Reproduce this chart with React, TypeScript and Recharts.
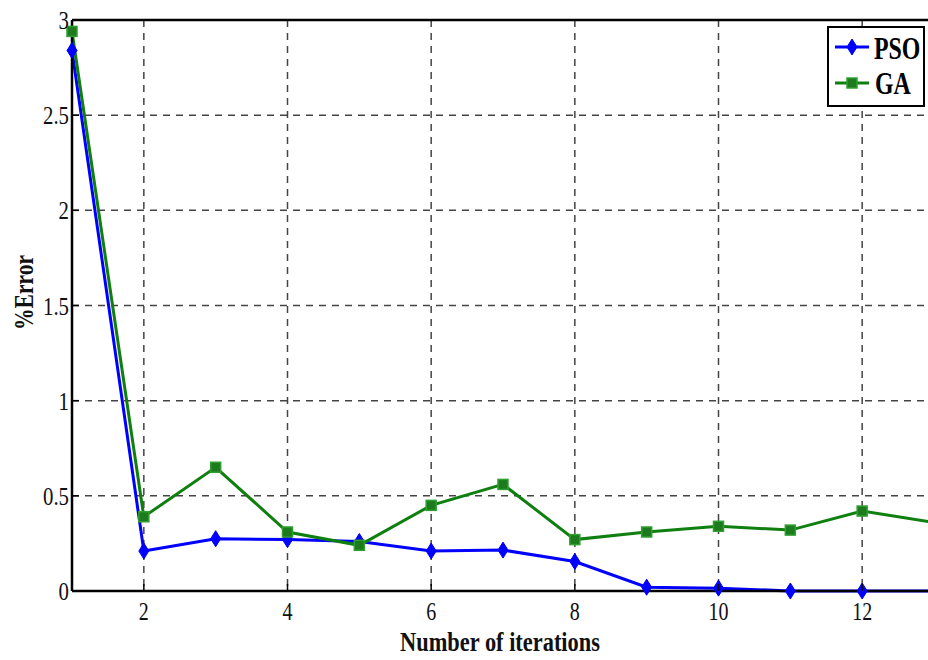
import { LineChart, Line, XAxis, YAxis, CartesianGrid, ReferenceLine, Label } from 'recharts';

const iterations = [1, 2, 3, 4, 5, 6, 7, 8, 9, 10, 11, 12, 13];
const psoError = [2.84, 0.21, 0.275, 0.27, 0.26, 0.21, 0.215, 0.155, 0.02, 0.015, 0, 0, 0];
const gaError = [2.94, 0.39, 0.65, 0.31, 0.24, 0.45, 0.56, 0.27, 0.31, 0.34, 0.32, 0.42, 0.36];
const xTicks = [2, 4, 6, 8, 10, 12];
const yTicks = [0, 0.5, 1, 1.5, 2, 2.5, 3];

const data = iterations.map((it, i) => ({ it, pso: psoError[i], ga: gaError[i] }));

const BLUE = '#0000ff';
const GREEN = '#0f7f0f';
const FONT = '"Liberation Serif", "Times New Roman", serif';
// the reference is squeezed horizontally, so all text is too
const SQUEEZE = 0.8;

const Diamond = (props: any) => {
    const { cx, cy } = props;
    if (cx == null || cy == null) return null;
    return <path d={`M${cx},${cy - 8} L${cx + 5},${cy} L${cx},${cy + 8} L${cx - 5},${cy} Z`} fill={BLUE} stroke={BLUE} />;
};

const Square = (props: any) => {
    const { cx, cy } = props;
    if (cx == null || cy == null) return null;
    return <rect x={cx - 5} y={cy - 5} width={10} height={10} fill="#1d7a1d" stroke="#2fa02f" strokeWidth={1.5} />;
};

const XTick = (props: any) => {
    const { x, payload } = props;
    const y0 = 591;
    return (
        <g>
            <line x1={x} y1={y0} x2={x} y2={y0 - 7} stroke="#000" strokeWidth={1.5} />
            <text transform={`translate(${x},${y0 + 29}) scale(${SQUEEZE},1)`} textAnchor="middle" fontFamily={FONT} fontSize={25} fill="#111">
                {payload.value}
            </text>
        </g>
    );
};

const YTick = (props: any) => {
    const { y, payload } = props;
    return (
        <g>
            <line x1={72} y1={y} x2={79} y2={y} stroke="#000" strokeWidth={1.5} />
            <text transform={`translate(69,${y + 9}) scale(${SQUEEZE},1)`} textAnchor="end" fontFamily={FONT} fontSize={26} fill="#111">
                {payload.value}
            </text>
        </g>
    );
};

const LegendBox = () => (
    <svg width={100} height={82} style={{ display: 'block' }}>
        <rect x={1} y={1} width={96} height={79} fill="#fff" stroke="#000" strokeWidth={2} />
        <line x1={8} y1={21} x2={42} y2={21} stroke={BLUE} strokeWidth={3} />
        <Diamond cx={25} cy={21} />
        <text transform={`translate(47,33) scale(0.77,1)`} fontFamily={FONT} fontWeight="bold" fontSize={31} fill="#000">PSO</text>
        <line x1={8} y1={57} x2={42} y2={57} stroke={GREEN} strokeWidth={3} />
        <Square cx={25} cy={57} />
        <text transform={`translate(48,68) scale(0.77,1)`} fontFamily={FONT} fontWeight="bold" fontSize={31} fill="#000">GA</text>
    </svg>
);

export default function App() {
    return (
        <div style={{ position: 'absolute', left: 0, top: 0, width: 928, height: 660, overflow: 'hidden', background: '#fff' }}>
            <LineChart width={936} height={660} data={data} margin={{ top: 20, right: 2, left: 0, bottom: 0 }}>
                <CartesianGrid stroke="#444" strokeDasharray="7 6" strokeWidth={1.5} />
                <XAxis
                    dataKey="it"
                    type="number"
                    domain={[1, 13]}
                    ticks={xTicks}
                    height={69}
                    axisLine={{ stroke: '#000', strokeWidth: 2.5 }}
                    tickLine={false}
                    tick={<XTick />}
                >
                    <Label
                        content={(p: any) => {
                            const vb = p.viewBox;
                            const cx = vb.x + vb.width / 2 - 3;
                            return (
                                <text transform={`translate(${cx},651) scale(${SQUEEZE},1)`} textAnchor="middle" fontFamily={FONT} fontWeight="bold" fontSize={28} fill="#111">
                                    Number of iterations
                                </text>
                            );
                        }}
                    />
                </XAxis>
                <YAxis
                    type="number"
                    domain={[0, 3]}
                    ticks={yTicks}
                    width={72}
                    axisLine={{ stroke: '#000', strokeWidth: 2.5 }}
                    tickLine={false}
                    tick={<YTick />}
                >
                    <Label
                        content={(p: any) => {
                            const vb = p.viewBox;
                            const cy = vb.y + vb.height / 2 - 13;
                            return (
                                <text transform={`translate(33,${cy}) rotate(-90) scale(${SQUEEZE},1)`} textAnchor="middle" fontFamily={FONT} fontWeight="bold" fontSize={27} fill="#111">
                                    %Error
                                </text>
                            );
                        }}
                    />
                </YAxis>
                <ReferenceLine y={3} stroke="#000" strokeWidth={2.5} />
                <Line dataKey="pso" name="PSO" stroke={BLUE} strokeWidth={3} dot={<Diamond />} activeDot={false} isAnimationActive={false} />
                <Line dataKey="ga" name="GA" stroke={GREEN} strokeWidth={3} dot={<Square />} activeDot={false} isAnimationActive={false} />
            </LineChart>
            <div style={{ position: 'absolute', left: 827, top: 26 }}>
                <LegendBox />
            </div>
        </div>
    );
}
